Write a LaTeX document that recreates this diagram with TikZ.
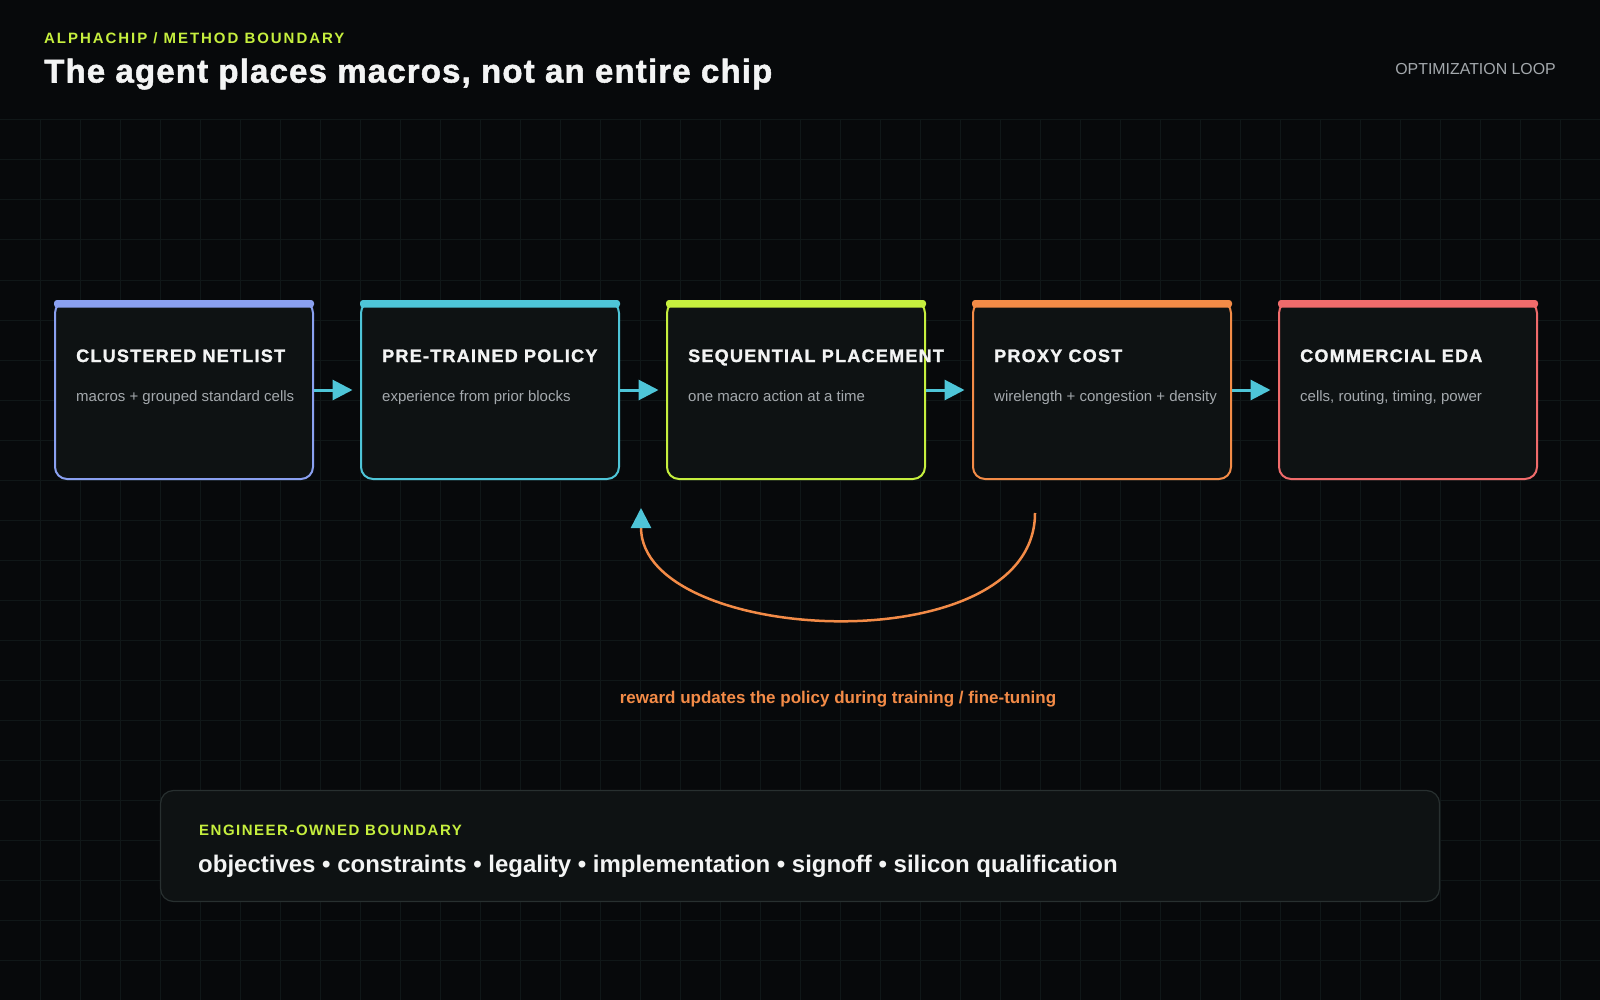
\documentclass[tikz,border=0pt]{standalone}
\usepackage{fontspec}
\setmainfont{Liberation Sans}
\newfontfamily\trackA[LetterSpace=7, FakeBold=1.4]{Liberation Sans}
\newfontfamily\trackB[LetterSpace=13]{Liberation Sans}
\newfontfamily\trackC[LetterSpace=10]{Liberation Sans}
\newfontfamily\trackH[LetterSpace=3.5, FakeBold=1.6]{Liberation Sans}
\usetikzlibrary{arrows.meta,calc}

\definecolor{bg}{HTML}{07090B}
\definecolor{gridc}{HTML}{101718}
\definecolor{cardbg}{HTML}{0E1213}
\definecolor{cA}{HTML}{8AA0F0}
\definecolor{cB}{HTML}{4EC5D8}
\definecolor{cC}{HTML}{C6EF3E}
\definecolor{cD}{HTML}{F38B47}
\definecolor{cE}{HTML}{F06B6B}
\definecolor{txt}{HTML}{F3F4F4}
\definecolor{mute}{HTML}{A4A9AD}
\definecolor{panelline}{HTML}{283030}

\tikzset{
  card/.style={rectangle, rounded corners=12pt, line width=2pt, fill=cardbg,
    minimum width=258pt, minimum height=178pt, inner sep=0pt},
  bar/.style={rounded corners=3pt},
  ttl/.style={inner sep=0pt, text=txt, font=\fontsize{18}{21}\selectfont\trackA\bfseries},
  sub/.style={inner sep=0pt, text=mute, font=\fontsize{15}{18}\selectfont},
  kicker/.style={inner sep=0pt, text=cC, font=\fontsize{15}{18}\selectfont\trackB\bfseries},
  kickertwo/.style={inner sep=0pt, text=cC, font=\fontsize{15}{18}\selectfont\trackC\bfseries},
  heading/.style={inner sep=0pt, text=txt, font=\fontsize{33}{38}\selectfont\trackH\bfseries},
  toplabel/.style={inner sep=0pt, text=mute, font=\fontsize{15.9}{18}\selectfont},
  caption/.style={inner sep=0pt, text=cD, font=\fontsize{17}{20}\selectfont\bfseries},
  listtxt/.style={inner sep=0pt, text=txt, font=\fontsize{24}{28}\selectfont\bfseries},
  panel/.style={rectangle, rounded corners=13pt, draw=panelline, line width=1.2pt,
    fill=cardbg, minimum width=1279pt, minimum height=111pt, inner sep=0pt},
  flow/.style={draw=cB, line width=3pt, -{Triangle[length=20pt,width=20pt]}},
  loopline/.style={draw=cD, line width=2.5pt, -{Triangle[length=20pt,width=20pt,color=cB]}}
}

\begin{document}
\begin{tikzpicture}[x=1pt,y=-1pt]
\useasboundingbox (0,0) rectangle (1600,1000);
\fill[bg] (0,0) rectangle (1600,1000);
% grid
\foreach \gx in {40,80,...,1560} \draw[gridc, line width=1pt] (\gx,120) -- (\gx,1000);
\foreach \gy in {120,160,...,960} \draw[gridc, line width=1pt] (0,\gy) -- (1600,\gy);

% header
\node[kicker, anchor=base west] (kick) at (44,43.3) {ALPHACHIP / METHOD BOUNDARY};
\node[heading, anchor=base west] (head) at (44,82.5) {The agent places macros, not an entire chip};
\node[toplabel, anchor=base east] (looplbl) at (1556,75) {OPTIMIZATION LOOP};

% cards
\foreach \i/\c/\t/\s in {
  1/cA/{CLUSTERED NETLIST}/{macros + grouped standard cells},
  2/cB/{PRE-TRAINED POLICY}/{experience from prior blocks},
  3/cC/{SEQUENTIAL PLACEMENT}/{one macro action at a time},
  4/cD/{PROXY COST}/{wirelength + congestion + density},
  5/cE/{COMMERCIAL EDA}/{cells, routing, timing, power}} {
  \pgfmathsetmacro\xl{54+306*(\i-1)}
  \node[card, draw=\c] (b\i) at (\xl+130,390) {};
  \fill[\c, bar] (\xl,300) rectangle (\xl+260,307.5);
  \node[ttl, anchor=base west] (t\i) at (\xl+22,362) {\t};
  \node[sub, anchor=base west] (s\i) at (\xl+22,401) {\s};
}

% flow arrows
\draw[flow] (b1.east) -- ([xshift=-7.5pt]b2.west);
\draw[flow] (b2.east) -- ([xshift=-7.5pt]b3.west);
\draw[flow] (b3.east) -- ([xshift=-7.5pt]b4.west);
\draw[flow] (b4.east) -- ([xshift=-7.5pt]b5.west);

% feedback loop
\coordinate (loopS) at ($(b4.south west)+(63,33)$);
\coordinate (loopE) at ($(b3.south west)+(-25,28)$);
\draw[loopline] (loopS) .. controls +(0,152) and +(0,137) .. (loopE);
\node[caption, anchor=base] (cap) at (838,703.3) {reward updates the policy during training / fine-tuning};

% engineer boundary panel
\node[panel] (eng) at (800,846) {};
\node[kickertwo, anchor=base west] (engk) at (199,835.5) {ENGINEER-OWNED BOUNDARY};
\node[listtxt, anchor=base west] (engl) at (198,872.7) {objectives • constraints • legality • implementation • signoff • silicon qualification};
\end{tikzpicture}
\end{document}
